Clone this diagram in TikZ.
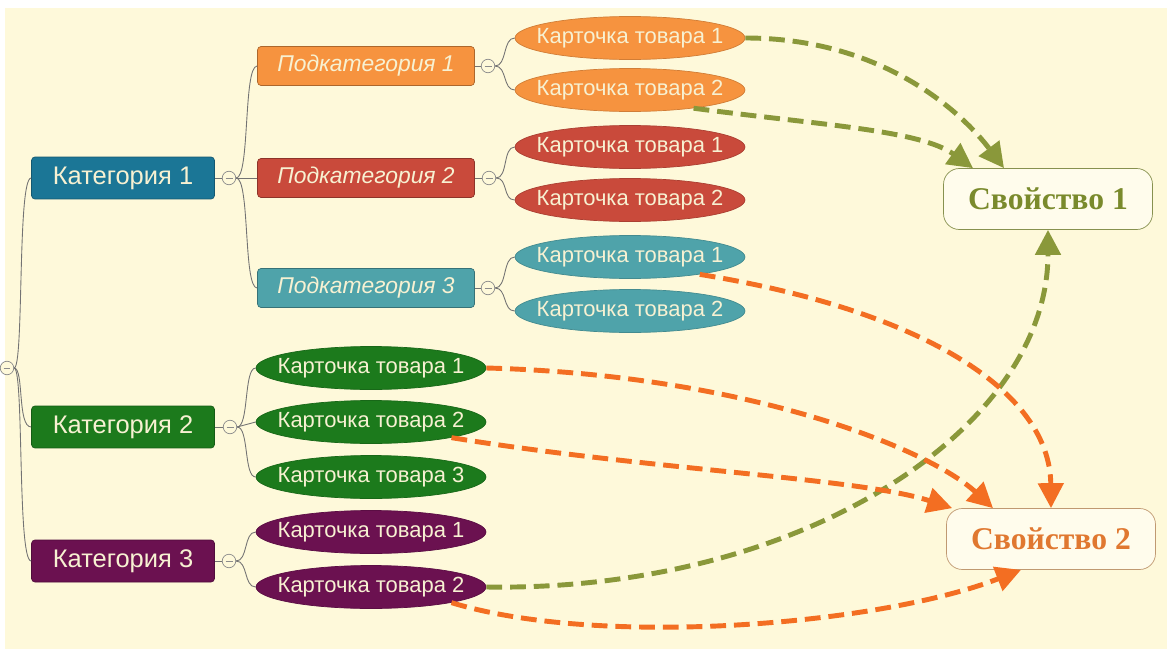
\documentclass[tikz,border=0pt]{standalone}
\usepackage{fontspec}
\setmainfont{Liberation Sans}
\newfontfamily\propfont{Liberation Serif}
\usetikzlibrary{shapes.geometric,arrows.meta}

\definecolor{paper}{HTML}{FEF9DA}
\definecolor{nodetext}{HTML}{F7F1D2}
\definecolor{catblue}{HTML}{1B7696}
\definecolor{catgreen}{HTML}{1C7A1C}
\definecolor{catplum}{HTML}{6B1150}
\definecolor{suborange}{HTML}{F6933F}
\definecolor{subred}{HTML}{C94A3B}
\definecolor{subteal}{HTML}{4FA3AA}
\definecolor{olivearrow}{HTML}{8A983A}
\definecolor{orangearrow}{HTML}{F36E22}
\definecolor{propolive}{HTML}{7A8A2C}
\definecolor{proporange}{HTML}{E07830}

\tikzset{
  catbox/.style={draw=#1!75!black,fill=#1,rounded corners=2pt,
    minimum width=3.66cm,minimum height=0.84cm,inner sep=0pt,
    text=nodetext,font=\fontsize{14.5}{17}\selectfont},
  subbox/.style={draw=#1!70!black,fill=#1,rounded corners=2pt,
    minimum width=4.34cm,minimum height=0.78cm,inner sep=0pt,
    text=nodetext,font=\itshape\fontsize{13}{15}\selectfont},
  card/.style={ellipse,draw=#1!85!black,fill=#1,
    minimum width=4.6cm,minimum height=0.86cm,inner sep=0pt,
    text=nodetext,font=\fontsize{12.5}{14}\selectfont},
  propbox/.style={draw=#1,fill=paper!50!white,rounded corners=9pt,
    minimum width=4.18cm,minimum height=1.22cm,inner sep=0pt,
    font=\propfont\bfseries\fontsize{18}{20}\selectfont},
  knob/.style={circle,draw=black!45,fill=paper,minimum size=0.27cm,inner sep=0pt,
    path picture={\draw[black!45,line width=0.4pt]
      ([xshift=-0.07cm]path picture bounding box.center) --
      ([xshift=0.07cm]path picture bounding box.center);}},
  branch/.style={draw=black!55,line width=0.5pt},
  linkolive/.style={draw=olivearrow,line width=2.8pt,dash pattern=on 9pt off 4.5pt,
    -{Triangle[length=0.5cm,width=0.5cm]}},
  linkorange/.style={draw=orangearrow,line width=2.8pt,dash pattern=on 9pt off 4.5pt,
    -{Triangle[length=0.5cm,width=0.5cm]}}
}

\begin{document}
\begin{tikzpicture}[x=0.02cm,y=-0.02cm]

    % canvas
    \useasboundingbox (0,0) rectangle (1167,649);
    \fill[white] (0,0) rectangle (1167,649);
    \fill[paper] (5,8) rectangle (1167,649);

    % categories
    \node[knob] (root) at (7,368) {};
    \node[catbox=catblue] (cat1) at (123,178) {Категория 1};
    \node[catbox=catgreen] (cat2) at (123,427) {Категория 2};
    \node[catbox=catplum] (cat3) at (123,561) {Категория 3};

    \node[knob] (kc1) at (229,178) {};
    \node[knob] (kc2) at (230,427) {};
    \node[knob] (kc3) at (229,561) {};

    % subcategories
    \node[subbox=suborange] (sub1) at (366,66) {Подкатегория 1};
    \node[subbox=subred] (sub2) at (366,178) {Подкатегория 2};
    \node[subbox=subteal] (sub3) at (366,288) {Подкатегория 3};

    \node[knob] (ks1) at (488,66) {};
    \node[knob] (ks2) at (489,178) {};
    \node[knob] (ks3) at (488,288) {};

    % product cards
    \node[card=suborange] (s1a) at (630,38) {\makebox[0pt]{Карточка товара 1}};
    \node[card=suborange] (s1b) at (630,90) {\makebox[0pt]{Карточка товара 2}};
    \node[card=subred] (s2a) at (630,147) {\makebox[0pt]{Карточка товара 1}};
    \node[card=subred] (s2b) at (630,200) {\makebox[0pt]{Карточка товара 2}};
    \node[card=subteal] (s3a) at (630,257) {\makebox[0pt]{Карточка товара 1}};
    \node[card=subteal] (s3b) at (630,311) {\makebox[0pt]{Карточка товара 2}};

    \node[card=catgreen] (g1) at (371,368) {\makebox[0pt]{Карточка товара 1}};
    \node[card=catgreen] (g2) at (371,422) {\makebox[0pt]{Карточка товара 2}};
    \node[card=catgreen] (g3) at (371,477) {\makebox[0pt]{Карточка товара 3}};
    \node[card=catplum] (p1) at (371,532) {\makebox[0pt]{Карточка товара 1}};
    \node[card=catplum] (p2) at (371,587) {\makebox[0pt]{Карточка товара 2}};

    % properties
    \node[propbox=olivearrow!70!gray,text=propolive] (prop1) at (1048,199) {Свойство 1};
    \node[propbox=proporange!45!paper!80!black,text=proporange] (prop2) at (1051,539) {Свойство 2};

    % tree branches
    \draw[branch] (root.east) .. controls +(10,0) and +(-14,0) .. (cat1.west);
    \draw[branch] (root.east) .. controls +(10,0) and +(-14,0) .. (cat2.west);
    \draw[branch] (root.east) .. controls +(10,0) and +(-14,0) .. (cat3.west);

    \draw[branch] (cat1.east) -- (kc1.west);
    \draw[branch] (cat2.east) -- (kc2.west);
    \draw[branch] (cat3.east) -- (kc3.west);

    \draw[branch] (kc1.east) .. controls +(14,0) and +(-14,0) .. (sub1.west);
    \draw[branch] (kc1.east) -- (sub2.west);
    \draw[branch] (kc1.east) .. controls +(14,0) and +(-14,0) .. (sub3.west);

    \draw[branch] (sub1.east) -- (ks1.west);
    \draw[branch] (sub2.east) -- (ks2.west);
    \draw[branch] (sub3.east) -- (ks3.west);

    \draw[branch] (ks1.east) .. controls +(12,0) and +(-12,0) .. (s1a.west);
    \draw[branch] (ks1.east) .. controls +(12,0) and +(-12,0) .. (s1b.west);
    \draw[branch] (ks2.east) .. controls +(12,0) and +(-12,0) .. (s2a.west);
    \draw[branch] (ks2.east) .. controls +(12,0) and +(-12,0) .. (s2b.west);
    \draw[branch] (ks3.east) .. controls +(12,0) and +(-12,0) .. (s3a.west);
    \draw[branch] (ks3.east) .. controls +(12,0) and +(-12,0) .. (s3b.west);

    \draw[branch] (kc2.east) .. controls +(12,0) and +(-12,0) .. (g1.west);
    \draw[branch] (kc2.east) -- (g2.west);
    \draw[branch] (kc2.east) .. controls +(12,0) and +(-12,0) .. (g3.west);
    \draw[branch] (kc3.east) .. controls +(12,0) and +(-12,0) .. (p1.west);
    \draw[branch] (kc3.east) .. controls +(12,0) and +(-12,0) .. (p2.west);

    % links to properties
    \draw[linkolive] (s1a.east) .. controls (880,38) and (960,110) .. ([xshift=-0.88cm]prop1.north);
    \draw[linkolive] (s1b.-16) .. controls (820,125) and (920,130) .. ([xshift=-1.5cm]prop1.north);
    \draw[linkolive] (p2.east) .. controls (800,592) and (1048,430) .. (prop1.south);

    \draw[linkorange] (s3a.-14) .. controls (920,310) and (1050,390) .. (prop2.north);
    \draw[linkorange] (g1.east) .. controls (750,375) and (930,450) .. ([xshift=-1.16cm]prop2.north);
    \draw[linkorange] (g2.-11) .. controls (650,470) and (860,478) .. ([xshift=0.12cm]prop2.north west);
    \draw[linkorange] (p2.-11) .. controls (600,648) and (880,625) .. ([xshift=-0.6cm]prop2.south);

  \end{tikzpicture}
\end{document}
